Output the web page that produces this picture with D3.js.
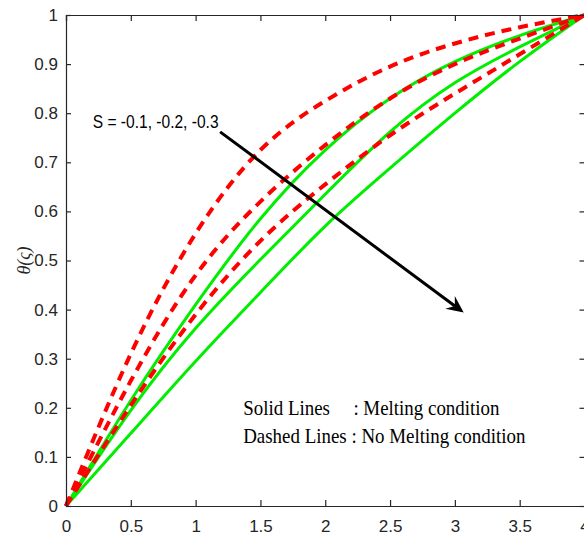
<!DOCTYPE html>
<html>
<head>
<meta charset="utf-8">
<script src="https://cdnjs.cloudflare.com/ajax/libs/d3/7.8.5/d3.min.js"></script>
<style>
  body { margin: 0; background: #fff; }
  svg { display: block; }
</style>
</head>
<body>
<div id="chart"></div>
<script>
// xi values shared by every curve
var xi = [0, 0.5, 1, 1.5, 2, 2.5, 3, 3.5, 4];

// solid lines : melting condition (S = -0.1, -0.2, -0.3)
var melt1 = [0, 0.215, 0.41, 0.585, 0.725, 0.83, 0.905, 0.958, 1];
var melt2 = [0, 0.195, 0.362, 0.502, 0.635, 0.762, 0.862, 0.935, 1];
var melt3 = [0, 0.148, 0.295, 0.435, 0.57, 0.688, 0.8, 0.905, 1];

// dashed lines : no melting condition
var nomelt1 = [0, 0.31, 0.555, 0.725, 0.825, 0.895, 0.942, 0.975, 1];
var nomelt2 = [0, 0.255, 0.47, 0.62, 0.735, 0.83, 0.9, 0.952, 1];
var nomelt3 = [0, 0.205, 0.39, 0.54, 0.655, 0.755, 0.84, 0.92, 1];

var xTicks = [0, 0.5, 1, 1.5, 2, 2.5, 3, 3.5, 4];
var yTicks = [0, 0.1, 0.2, 0.3, 0.4, 0.5, 0.6, 0.7, 0.8, 0.9, 1];

function drawChart() {
  var width = 584;
  var height = 560;
  var pLeft = 66, pTop = 15, pRight = 584.5, pBottom = 506;

  var x = d3.scaleLinear().domain([0, 4]).range([pLeft, pRight]);
  var y = d3.scaleLinear().domain([0, 1]).range([pBottom, pTop]);

  var svg = d3.select('#chart')
    .append('svg')
    .attr('width', width)
    .attr('height', height);

  var line = d3.line()
    .x(function(d) { return x(d[0]); })
    .y(function(d) { return y(d[1]); })
    .curve(d3.curveNatural);

  function pairs(vals) {
    return xi.map(function(v, i) { return [v, vals[i]]; });
  }

  // green solid first, red dashes on top
  [melt1, melt2, melt3].forEach(function(s) {
    svg.append('path')
      .attr('d', line(pairs(s)))
      .attr('fill', 'none')
      .attr('stroke', '#00ee00')
      .attr('stroke-width', 3);
  });

  [nomelt1, nomelt2, nomelt3].forEach(function(s) {
    svg.append('path')
      .attr('d', line(pairs(s)))
      .attr('fill', 'none')
      .attr('stroke', '#ff0000')
      .attr('stroke-width', 4)
      .attr('stroke-dasharray', '10,7');
  });

  // axes box
  var axisColor = '#262626';
  var tickFont = 'Liberation Sans, Arial, sans-serif';

  var gx = svg.append('g')
    .attr('transform', 'translate(0,' + pBottom + ')')
    .call(d3.axisBottom(x).tickValues(xTicks).tickSize(-6).tickPadding(14).tickFormat(d3.format('')));
  var gxt = svg.append('g')
    .attr('transform', 'translate(0,' + pTop + ')')
    .call(d3.axisTop(x).tickValues(xTicks).tickSize(-6).tickFormat(''));
  var gy = svg.append('g')
    .attr('transform', 'translate(' + pLeft + ',0)')
    .call(d3.axisLeft(y).tickValues(yTicks).tickSize(-5).tickPadding(8).tickFormat(d3.format('')));
  var gyr = svg.append('g')
    .attr('transform', 'translate(' + pRight + ',0)')
    .call(d3.axisRight(y).tickValues(yTicks).tickSize(-5).tickFormat(''));

  [gx, gxt, gy, gyr].forEach(function(g) {
    g.select('.domain').attr('stroke', axisColor).attr('stroke-width', 1.2);
    g.selectAll('.tick line').attr('stroke', axisColor).attr('stroke-width', 1.2);
    g.selectAll('text')
      .attr('fill', axisColor)
      .style('font-family', tickFont)
      .style('font-size', '17px');
  });

  // axis titles
  svg.append('text')
    .attr('transform', 'translate(30,' + y(0.5) + ') rotate(-90)')
    .attr('text-anchor', 'middle')
    .attr('fill', axisColor)
    .style('font-family', 'Liberation Serif, Times New Roman, serif')
    .style('font-style', 'italic')
    .style('font-size', '18px')
    .text('θ(ς)');

  svg.append('text')
    .attr('x', x(2))
    .attr('y', 568)
    .attr('text-anchor', 'middle')
    .attr('fill', axisColor)
    .style('font-family', 'Liberation Serif, Times New Roman, serif')
    .style('font-style', 'italic')
    .style('font-size', '17px')
    .text('ς');

  // annotation arrow
  var arrowFrom = [1.189, 0.762];
  var arrowTo = [3.068, 0.394];
  var ax0 = x(arrowFrom[0]), ay0 = y(arrowFrom[1]);
  var ax1 = x(arrowTo[0]), ay1 = y(arrowTo[1]);
  var ang = Math.atan2(ay1 - ay0, ax1 - ax0);
  var headLen = 17, headW = 8, back = 11;

  svg.append('line')
    .attr('x1', ax0).attr('y1', ay0)
    .attr('x2', ax1 - Math.cos(ang) * back).attr('y2', ay1 - Math.sin(ang) * back)
    .attr('stroke', '#000')
    .attr('stroke-width', 3);

  function rot(px, py) {
    return [ax1 + px * Math.cos(ang) - py * Math.sin(ang), ay1 + px * Math.sin(ang) + py * Math.cos(ang)];
  }
  svg.append('polygon')
    .attr('points', [rot(0, 0), rot(-headLen, -headW), rot(-back, 0), rot(-headLen, headW)].map(function(p) { return p.join(','); }).join(' '))
    .attr('fill', '#000');

  svg.append('text')
    .attr('transform', 'translate(' + x(0.206) + ',' + y(0.77) + ') scale(0.82,1)')
    .attr('fill', '#000')
    .style('font-family', tickFont)
    .style('font-size', '19px')
    .text('S = -0.1, -0.2, -0.3');

  // legend text
  var legFont = 'Liberation Serif, Times New Roman, serif';
  svg.append('text')
    .attr('transform', 'translate(' + x(1.367) + ',' + y(0.185) + ') scale(0.88,1)')
    .style('font-family', legFont)
    .style('font-size', '21.5px')
    .text('Solid Lines');
  svg.append('text')
    .attr('transform', 'translate(' + x(2.217) + ',' + y(0.185) + ') scale(0.88,1)')
    .style('font-family', legFont)
    .style('font-size', '21.5px')
    .text(': Melting condition');
  svg.append('text')
    .attr('transform', 'translate(' + x(1.367) + ',' + y(0.128) + ') scale(0.88,1)')
    .style('font-family', legFont)
    .style('font-size', '21.5px')
    .text('Dashed Lines : No Melting condition');
}

window.onload = drawChart;
</script>
</body>
</html>
